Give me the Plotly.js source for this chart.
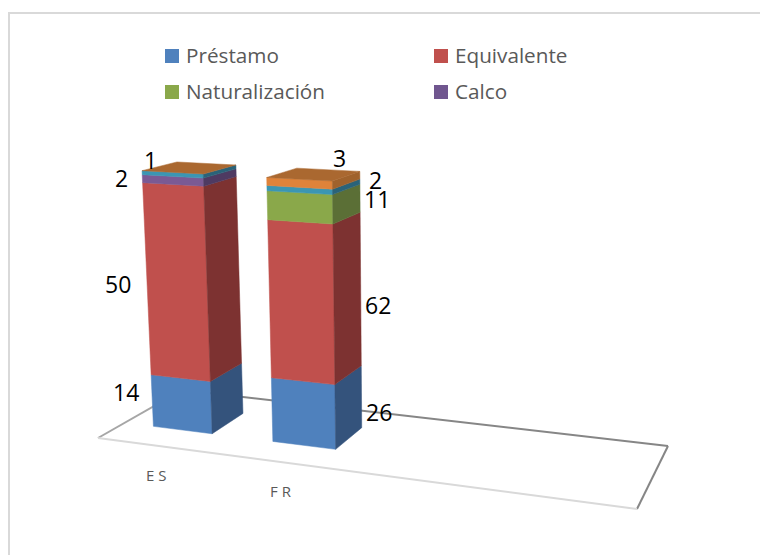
<!DOCTYPE html>
<html><head><meta charset="utf-8">
<script src="https://cdn.plot.ly/plotly-3.0.1.min.js"></script>
<style>html,body{margin:0;padding:0;background:#fff}</style></head>
<body><div id="chart" style="width:760px;height:555px"></div>
<script>
// ---- data ----
const categories = ["E S", "F R"];
const seriesNames = ["Préstamo", "Equivalente", "Naturalización", "Calco", "", ""];
const prestamo = [14, 26];
const equivalente = [50, 62];
const naturalizacion = [0, 11];
const calco = [2, 0];
const serie5 = [1, 2];
const serie6 = [0, 3];
const allSeries = [prestamo, equivalente, naturalizacion, calco, serie5, serie6];

// ---- style ----
const frontColors = ["#4f81bd", "#c0504d", "#8aa84a", "#7a5a94", "#3b96b3", "#df833a"];
const sideColors  = ["#34537c", "#7d3231", "#5b6f36", "#4e3a62", "#2a6379", "#a0622c"];
const roofColor = "#aa6830";
const legendColors = ["#4f81bd", "#c0504d", "#8aa84a", "#70568f"];

// ---- projection of the percent-stacked 3D scene onto pixel axes ----
function project(X, Y, Z) {
  const w = 1 - 0.1336 * X + 0.1176 * Y - 0.0446 * Z;
  return [(453.9 * X + 105.4 * Y + 98 - 18 * Z) / w,
          (3.0 * X - 2.1 * Y + 438 - 270 * Z) / w];
}
function poly(points, color) {
  const p = points.map(q => project(q[0], q[1], q[2]));
  p.push(p[0]);
  return {x: p.map(q => q[0]), y: p.map(q => q[1]), mode: "lines", fill: "toself",
    fillcolor: color, line: {color: color, width: 0.5}, hoverinfo: "skip", showlegend: false, type: "scatter"};
}
function edge(a, b, color, width) {
  const p = [project(a[0], a[1], 0), project(b[0], b[1], 0)];
  return {x: p.map(q => q[0]), y: p.map(q => q[1]), mode: "lines",
    line: {color: color, width: width}, hoverinfo: "skip", showlegend: false, type: "scatter"};
}

const traces = [
  edge([0, 0], [0, 1], "#a6a6a6", 2),
  edge([0, 1], [1, 1], "#868686", 2),
  edge([1, 1], [1, 0], "#868686", 2),
  edge([1, 0], [0, 0], "#d9d9d9", 2)
];
const slots = 4, halfBar = 0.0625, y0 = 0.295, y1 = 0.7;
const annotations = [];
categories.forEach((cat, i) => {
  const total = allSeries.reduce((s, a) => s + a[i], 0);
  const xa = (i + 0.5) / slots - halfBar, xb = (i + 0.5) / slots + halfBar;
  let cum = 0;
  allSeries.forEach((vals, s) => {
    const v = vals[i];
    if (v > 0) {
      const z0 = cum / total, z1 = (cum + v) / total;
      traces.push(poly([[xa,y0,z0],[xb,y0,z0],[xb,y0,z1],[xa,y0,z1]], frontColors[s]));
      traces.push(poly([[xb,y0,z0],[xb,y1,z0],[xb,y1,z1],[xb,y0,z1]], sideColors[s]));
      cum += v;
    }
  });
  traces.push(poly([[xa,y0,1],[xb,y0,1],[xb,y1,1],[xa,y1,1]], roofColor));
  const base = project((i + 0.5) / slots, 0, 0);
  annotations.push({x: base[0] - 1, y: base[1] + 29, xref: "x", yref: "y", text: cat, showarrow: false,
    font: {family: "Open Sans", size: 15, color: "#595959"}});
});

// value labels: [category, series, px, py]
const labelSpots = [[0,4,150,160],[0,3,121,178],[0,1,118,284],[0,0,126,392],
                    [1,5,339,158],[1,4,375,180],[1,2,377,199],[1,1,378,305],[1,0,379,412]];
labelSpots.forEach(l => annotations.push({x: l[2], y: l[3], xref: "x", yref: "y", showarrow: false,
  text: String(allSeries[l[1]][l[0]]), font: {family: "Open Sans", size: 23, color: "#000"}}));

// legend: two columns, two rows
const legendCols = [172, 441], legendRows = [56, 92];
seriesNames.slice(0, 4).forEach((n, s) => {
  const px = legendCols[s % 2], py = legendRows[Math.floor(s / 2)];
  traces.push({x: [px], y: [py], name: n, type: "scatter", mode: "markers", hoverinfo: "skip", showlegend: false,
    marker: {symbol: "square", size: 14, color: legendColors[s]}});
  annotations.push({x: px + 12, y: py - 1, xref: "x", yref: "y", xanchor: "left", showarrow: false, text: n,
    font: {family: "Open Sans", size: 20.7, color: "#595959"}, xshift: 0});
});

Plotly.newPlot("chart", traces, {
  width: 760, height: 555, margin: {l: 0, r: 0, t: 0, b: 0, autoexpand: false},
  paper_bgcolor: "#fff", plot_bgcolor: "#fff",
  xaxis: {range: [0, 760], visible: false, fixedrange: true},
  yaxis: {range: [555, 0], visible: false, fixedrange: true},
  showlegend: false,
  annotations: annotations,
  shapes: [
    {type: "line", xref: "x", yref: "y", x0: 8, x1: 760, y0: 13, y1: 13, line: {color: "#d9d9d9", width: 2}, layer: "below"},
    {type: "line", xref: "x", yref: "y", x0: 9, x1: 9, y0: 12, y1: 555, line: {color: "#d9d9d9", width: 2}, layer: "below"}
  ]
}, {displayModeBar: false, staticPlot: true});
</script></body></html>
